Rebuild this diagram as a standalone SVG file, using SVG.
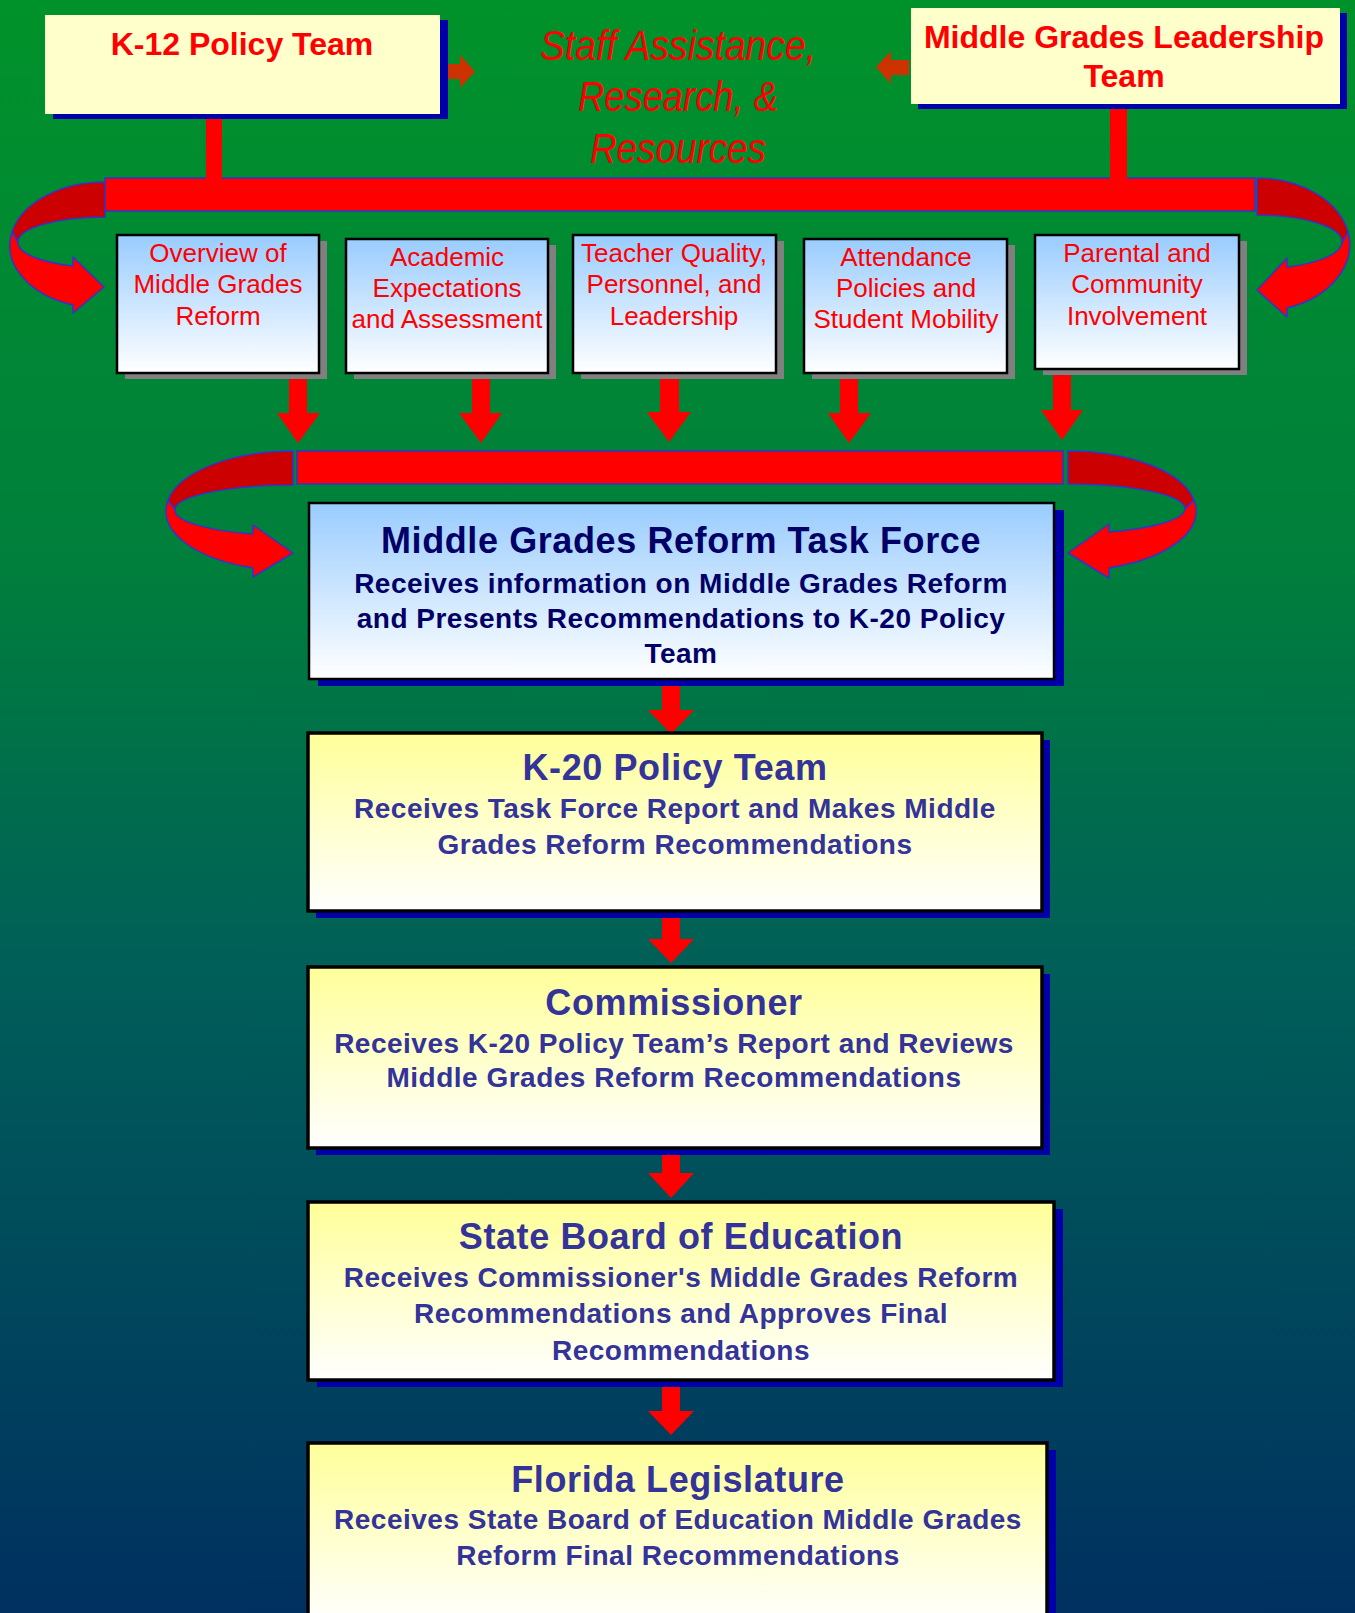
<svg xmlns="http://www.w3.org/2000/svg" width="1355" height="1613" viewBox="0 0 1355 1613">
<defs>
<linearGradient id="bg" x1="0" y1="0" x2="0" y2="1">
<stop offset="0" stop-color="#00922A"/>
<stop offset="0.35" stop-color="#007F3C"/>
<stop offset="0.6" stop-color="#005F58"/>
<stop offset="1" stop-color="#003060"/>
</linearGradient>
<linearGradient id="blue" x1="0" y1="0" x2="0" y2="1">
<stop offset="0" stop-color="#99CCFF"/>
<stop offset="1" stop-color="#FFFFFF"/>
</linearGradient>
<linearGradient id="yellow" x1="0" y1="0" x2="0" y2="1">
<stop offset="0" stop-color="#FFFF99"/>
<stop offset="1" stop-color="#FFFFFF"/>
</linearGradient>
<style>
.bar{fill:#FF0000;stroke:#3333CC;stroke-width:1.5}
.back{fill:#CC0000;stroke:#3333CC;stroke-width:1.5;stroke-linejoin:round}
.front{fill:#FF0000;stroke:#3333CC;stroke-width:1.5;stroke-linejoin:round}
.red{fill:#FF0000}
.orange{fill:#CC3300}
.topbox{fill:#FFFFCC}
.blueshadow{fill:#0000AA}
.grayshadow{fill:#808080}
.small{fill:url(#blue);stroke:#000;stroke-width:2.5}
.tf{fill:url(#blue);stroke:#000;stroke-width:2.5}
.ybox{fill:url(#yellow);stroke:#000;stroke-width:3.5}
.t{font-family:"Liberation Sans",Arial,sans-serif;text-anchor:middle}
.toptitle{font-size:32px;font-weight:bold;fill:#FF0000}
.staff{font-size:42px;font-style:italic;fill:#FF0000}
.stxt{font-size:26px;fill:#FF0000}
.title{font-size:36px;font-weight:bold;letter-spacing:0.6px}
.sub{font-size:28px;font-weight:bold;letter-spacing:0.5px}
.navy{fill:#000066}
.indigo{fill:#333399}
</style>
</defs>
<rect x="0" y="0" width="1355" height="1613" fill="url(#bg)"/>

<g id="connectors">
  <!-- top distribution bar and curls -->
  <rect class="bar" x="105" y="178" width="1150" height="33"/>
  <path class="back" d="M105,182 A95,63 0 0 0 12,232 L18,242 A87,25 0 0 1 105,217 Z"/>
  <path class="front" d="M12,232 A95,63 0 0 0 73,305 L73,313 L104,287 L73,257 L73,266 A87,25 0 0 1 18,242 Z"/>
  <path class="back" d="M1257,178 A93,67 0 0 1 1348,232 L1342,243 A85,27 0 0 0 1257,215 Z"/>
  <path class="front" d="M1348,232 A93,67 0 0 1 1287,308 L1287,317 L1257,290 L1287,258 L1287,267 A85,27 0 0 0 1342,243 Z"/>
  <rect class="red" x="206" y="112" width="16" height="68"/>
  <rect class="red" x="1110" y="104" width="17" height="76"/>
  <polygon class="orange" points="442,64 460,64 460,55 475,71.5 460,88 460,79 442,79"/>
  <polygon class="orange" points="909,60 891,60 891,51 876,67 891,84 891,75 909,75"/>
  <!-- arrows from topic boxes -->
  <polygon class="red" points="289,373 307,373 307,413 320,413 298,443 277,413 289,413"/>
  <polygon class="red" points="472,373 490,373 490,413 502,413 481,443 459,413 472,413"/>
  <polygon class="red" points="660,373 679,373 679,412 691,412 669,442 647,412 660,412"/>
  <polygon class="red" points="840,373 858,373 858,413 871,413 849,443 828,413 840,413"/>
  <polygon class="red" points="1053,369 1071,369 1071,410 1083,410 1062,440 1041,410 1053,410"/>
  <!-- second bar and curls -->
  <rect class="bar" x="297" y="451" width="766" height="33"/>
  <path class="back" d="M293,451 A127,60 0 0 0 168,500 L175,510 A118,25 0 0 1 293,485 Z"/>
  <path class="front" d="M168,500 A127,60 0 0 0 253,568 L253,577 L293,553 L253,525 L253,534 A118,25 0 0 1 175,510 Z"/>
  <path class="back" d="M1068,451 A128,60 0 0 1 1194,500 L1185,509 A117,25 0 0 0 1068,484 Z"/>
  <path class="front" d="M1194,500 A128,60 0 0 1 1109,568 L1109,578 L1068,553 L1109,524 L1109,532 A117,25 0 0 0 1185,509 Z"/>
  <!-- vertical chain -->
  <polygon class="red" points="662,679 680,679 680,710 694,710 671,734 648,710 662,710"/>
  <polygon class="red" points="662,911 680,911 680,939 694,939 671,963 648,939 662,939"/>
  <polygon class="red" points="662,1148 680,1148 680,1173 694,1173 671,1198 648,1173 662,1173"/>
  <polygon class="red" points="662,1380 680,1380 680,1411 694,1411 671,1435 648,1411 662,1411"/>
</g>

<g id="k12">
  <rect class="blueshadow" x="53" y="20" width="395" height="99"/>
  <rect class="topbox" x="45" y="15" width="395" height="99"/>
  <text class="t toptitle" x="242" y="55">K-12 Policy Team</text>
</g>

<g id="mgl">
  <rect class="blueshadow" x="918" y="13" width="429" height="96"/>
  <rect class="topbox" x="911" y="8" width="429" height="96"/>
  <text class="t toptitle" x="1124" y="48">Middle Grades Leadership</text>
  <text class="t toptitle" x="1124" y="87">Team</text>
</g>

<g id="staff">
  <text class="t staff" x="678" y="60" textLength="276" lengthAdjust="spacingAndGlyphs">Staff Assistance,</text>
  <text class="t staff" x="678" y="111" textLength="200" lengthAdjust="spacingAndGlyphs">Research, &amp;</text>
  <text class="t staff" x="678" y="163" textLength="176" lengthAdjust="spacingAndGlyphs">Resources</text>
</g>

<g id="overview">
  <rect class="grayshadow" x="125" y="241" width="202" height="138"/>
  <rect class="small" x="117" y="235" width="202" height="138"/>
  <text class="t stxt" x="218" y="262">Overview of</text>
  <text class="t stxt" x="218" y="293">Middle Grades</text>
  <text class="t stxt" x="218" y="325">Reform</text>
</g>

<g id="academic">
  <rect class="grayshadow" x="354" y="245" width="202" height="134"/>
  <rect class="small" x="346" y="239" width="202" height="134"/>
  <text class="t stxt" x="447" y="266">Academic</text>
  <text class="t stxt" x="447" y="297">Expectations</text>
  <text class="t stxt" x="447" y="328">and Assessment</text>
</g>

<g id="teacher">
  <rect class="grayshadow" x="581" y="241" width="203" height="138"/>
  <rect class="small" x="573" y="235" width="203" height="138"/>
  <text class="t stxt" x="674" y="262">Teacher Quality,</text>
  <text class="t stxt" x="674" y="293">Personnel, and</text>
  <text class="t stxt" x="674" y="325">Leadership</text>
</g>

<g id="attendance">
  <rect class="grayshadow" x="812" y="245" width="203" height="134"/>
  <rect class="small" x="804" y="239" width="203" height="134"/>
  <text class="t stxt" x="906" y="266">Attendance</text>
  <text class="t stxt" x="906" y="297">Policies and</text>
  <text class="t stxt" x="906" y="328">Student Mobility</text>
</g>

<g id="parental">
  <rect class="grayshadow" x="1043" y="241" width="204" height="134"/>
  <rect class="small" x="1035" y="235" width="204" height="134"/>
  <text class="t stxt" x="1137" y="262">Parental and</text>
  <text class="t stxt" x="1137" y="293">Community</text>
  <text class="t stxt" x="1137" y="325">Involvement</text>
</g>

<g id="taskforce">
  <rect class="blueshadow" x="318" y="510" width="746" height="176"/>
  <rect class="tf" x="309" y="503" width="745" height="176"/>
  <text class="t title navy" x="681" y="553">Middle Grades Reform Task Force</text>
  <text class="t sub navy" x="681" y="593">Receives information on Middle Grades Reform</text>
  <text class="t sub navy" x="681" y="628">and Presents Recommendations to K-20 Policy</text>
  <text class="t sub navy" x="681" y="663">Team</text>
</g>

<g id="k20">
  <rect class="blueshadow" x="316" y="740" width="734" height="178"/>
  <rect class="ybox" x="308" y="733" width="734" height="178"/>
  <text class="t title indigo" x="675" y="780">K-20 Policy Team</text>
  <text class="t sub indigo" x="675" y="818">Receives Task Force Report and Makes Middle</text>
  <text class="t sub indigo" x="675" y="854">Grades Reform Recommendations</text>
</g>

<g id="commissioner">
  <rect class="blueshadow" x="316" y="974" width="734" height="181"/>
  <rect class="ybox" x="308" y="967" width="734" height="181"/>
  <text class="t title indigo" x="674" y="1015">Commissioner</text>
  <text class="t sub indigo" x="674" y="1053">Receives K-20 Policy Team’s Report and Reviews</text>
  <text class="t sub indigo" x="674" y="1087">Middle Grades Reform Recommendations</text>
</g>

<g id="sbe">
  <rect class="blueshadow" x="317" y="1209" width="746" height="178"/>
  <rect class="ybox" x="308" y="1202" width="746" height="178"/>
  <text class="t title indigo" x="681" y="1249">State Board of Education</text>
  <text class="t sub indigo" x="681" y="1287">Receives Commissioner's Middle Grades Reform</text>
  <text class="t sub indigo" x="681" y="1323">Recommendations and Approves Final</text>
  <text class="t sub indigo" x="681" y="1360">Recommendations</text>
</g>

<g id="legislature">
  <rect class="blueshadow" x="316" y="1450" width="740" height="180"/>
  <rect class="ybox" x="308" y="1443" width="739" height="180"/>
  <text class="t title indigo" x="678" y="1492">Florida Legislature</text>
  <text class="t sub indigo" x="678" y="1529">Receives State Board of Education Middle Grades</text>
  <text class="t sub indigo" x="678" y="1565">Reform Final Recommendations</text>
</g>
</svg>
